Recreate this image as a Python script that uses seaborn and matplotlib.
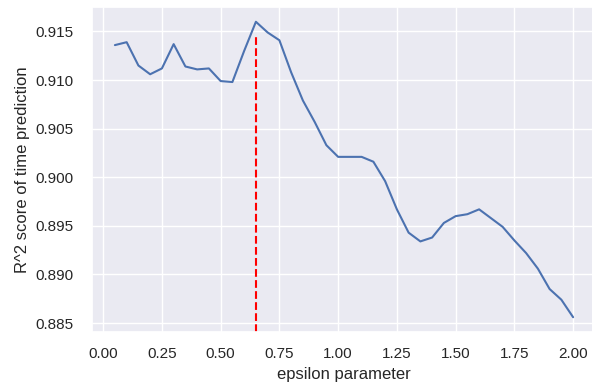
import matplotlib
matplotlib.use("Agg")
import matplotlib.pyplot as plt
import seaborn as sns
import numpy as np

sns.set_theme()
plt.rcParams['font.family'] = ['Liberation Sans', 'DejaVu Sans']

# epsilon sweep and R^2 score
epsilon = [0.05, 0.10, 0.15, 0.20, 0.25, 0.30, 0.35, 0.40, 0.45, 0.50,
           0.55, 0.60, 0.65, 0.70, 0.75, 0.80, 0.85, 0.90, 0.95, 1.00,
           1.05, 1.10, 1.15, 1.20, 1.25, 1.30, 1.35, 1.40, 1.45, 1.50,
           1.55, 1.60, 1.65, 1.70, 1.75, 1.80, 1.85, 1.90, 1.95, 2.00]
r2_score = [0.9136, 0.9139, 0.9115, 0.9106, 0.9112, 0.9137, 0.9114, 0.9111, 0.9112, 0.9099,
            0.9098, 0.9130, 0.9160, 0.9149, 0.9141, 0.9108, 0.9079, 0.9057, 0.9033, 0.9021,
            0.9021, 0.9021, 0.9016, 0.8996, 0.8967, 0.8943, 0.8934, 0.8938, 0.8953, 0.8960,
            0.8962, 0.8967, 0.8958, 0.8949, 0.8935, 0.8922, 0.8906, 0.8885, 0.8874, 0.8856]
best_eps = 0.65

fig, ax = plt.subplots(figsize=(5.92, 3.83), dpi=100)
sns.lineplot(x=epsilon, y=r2_score, ax=ax)
ax.axvline(best_eps, ymax=0.91, color='red', linestyle='--')

ax.set_xlabel('epsilon parameter')
ax.set_ylabel('R^2 score of time prediction')
ax.tick_params(axis='y', pad=7)
ax.tick_params(axis='x', pad=5)
ax.set_position([0.1554, 0.1332, 0.8514, 0.8485])

plt.savefig('out.png', dpi=100)
